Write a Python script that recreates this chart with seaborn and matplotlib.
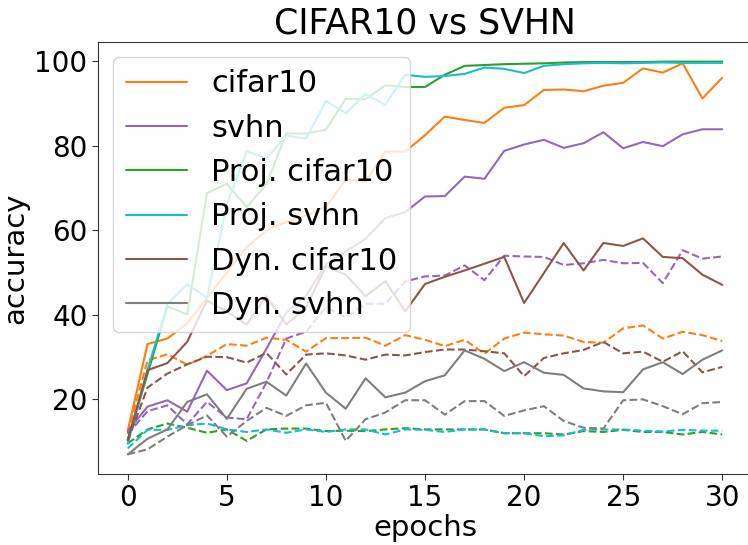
import matplotlib
matplotlib.use("Agg")
import matplotlib.pyplot as plt
import seaborn as sns
import numpy as np

epochs = list(range(31))

# train (solid) accuracies
cifar10 = [12.6, 33.1, 34.4, 38.0, 44.0, 50.0, 56.0, 60.0, 62.0, 63.5, 65.5, 72.0, 71.5, 78.6, 78.6,
           82.5, 86.9, 86.1, 85.4, 89.0, 89.6, 93.2, 93.3, 92.9, 94.2, 94.9, 98.3, 97.3, 99.5, 91.2, 96.1]
svhn = [12.5, 18.3, 19.8, 17.1, 26.8, 22.2, 23.8, 32.0, 40.5, 44.5, 52.0, 55.0, 58.0, 62.9, 64.3,
        68.0, 68.1, 72.7, 72.2, 78.8, 80.3, 81.4, 79.5, 80.6, 83.2, 79.4, 80.9, 79.9, 82.7, 83.9, 83.9]
proj_cifar10 = [10.4, 26.0, 42.0, 40.1, 68.8, 71.0, 65.5, 70.9, 82.9, 82.9, 83.8, 91.1, 91.0, 94.3, 93.9,
                93.9, 96.8, 98.9, 99.1, 99.3, 99.4, 99.5, 99.7, 99.8, 99.8, 99.8, 99.8, 99.9, 99.9, 99.9, 99.9]
proj_svhn = [9.5, 27.0, 42.5, 47.3, 44.0, 66.0, 78.7, 77.0, 82.4, 81.7, 90.6, 87.7, 92.2, 89.7, 96.8,
             96.3, 96.5, 97.0, 98.5, 98.2, 97.2, 98.9, 99.3, 99.5, 99.6, 99.5, 99.6, 99.7, 99.6, 99.6, 99.6]
dyn_cifar10 = [10.4, 26.9, 28.6, 33.6, 43.4, 40.8, 37.7, 44.4, 37.7, 41.8, 51.5, 49.5, 44.4, 48.0, 40.8,
               47.3, 49.0, 50.5, 52.1, 53.7, 42.8, 49.9, 57.0, 50.5, 57.0, 56.3, 58.1, 53.7, 53.4, 49.5, 47.1]
dyn_svhn = [7.0, 10.7, 12.9, 19.4, 21.2, 15.4, 22.5, 24.2, 20.9, 28.5, 21.6, 17.8, 25.0, 20.5, 21.6,
            24.3, 25.7, 31.6, 29.6, 26.7, 28.8, 26.3, 25.8, 22.6, 21.9, 21.7, 27.1, 28.8, 26.0, 29.4, 31.6]

# test (dashed) accuracies
cifar10_test = [12.0, 29.2, 30.7, 28.2, 30.3, 33.1, 32.7, 34.6, 34.1, 31.3, 34.5, 34.5, 34.6, 32.7, 35.2,
                34.1, 32.6, 34.1, 30.8, 34.4, 35.8, 35.4, 35.1, 33.6, 33.4, 36.8, 37.5, 34.4, 36.0, 35.2, 33.8]
svhn_test = [11.8, 17.2, 18.6, 14.1, 19.4, 15.7, 15.3, 24.0, 34.4, 36.0, 41.8, 39.4, 42.6, 42.6, 47.9,
             49.1, 49.3, 51.7, 48.2, 54.0, 53.8, 53.7, 51.8, 52.2, 53.0, 52.2, 52.3, 47.5, 55.3, 53.3, 53.8]
proj_cifar10_test = [9.6, 12.9, 14.3, 13.3, 12.1, 12.9, 10.2, 12.9, 13.1, 13.1, 12.5, 12.6, 12.5, 12.9, 13.2,
                     12.9, 12.9, 12.9, 12.9, 12.0, 12.0, 12.0, 11.7, 12.5, 12.3, 12.8, 12.3, 12.3, 11.7, 12.3, 11.7]
proj_svhn_test = [8.4, 12.8, 12.8, 13.9, 14.3, 12.9, 12.3, 12.9, 12.1, 12.9, 12.3, 12.9, 12.9, 11.7, 12.9,
                  12.8, 12.3, 12.9, 12.9, 12.0, 12.0, 11.3, 11.5, 12.8, 12.9, 12.9, 12.6, 12.4, 12.8, 12.6, 12.6]
dyn_cifar10_test = [10.2, 22.8, 26.1, 28.3, 30.1, 30.0, 28.7, 31.0, 25.9, 30.6, 30.9, 30.4, 29.4, 30.6, 30.4,
                    31.2, 31.8, 31.8, 31.4, 30.9, 25.5, 29.8, 30.9, 31.7, 33.6, 30.9, 31.3, 28.9, 31.4, 26.4, 27.7]
dyn_svhn_test = [7.0, 8.2, 11.2, 13.9, 16.2, 11.2, 14.9, 18.0, 16.1, 18.6, 19.2, 10.2, 15.3, 16.9, 19.8,
                 19.8, 16.4, 19.6, 19.6, 16.1, 17.4, 18.4, 14.9, 13.3, 13.1, 19.8, 20.0, 18.4, 16.5, 19.1, 19.4]

labels = ["cifar10", "svhn", "Proj. cifar10", "Proj. svhn", "Dyn. cifar10", "Dyn. svhn"]
train_series = [cifar10, svhn, proj_cifar10, proj_svhn, dyn_cifar10, dyn_svhn]
test_series = [cifar10_test, svhn_test, proj_cifar10_test, proj_svhn_test, dyn_cifar10_test, dyn_svhn_test]
colors = ["#ff7f0e", "#9467bd", "#2ca02c", "#17becf", "#8c564b", "#7f7f7f"]

sns.set_style("ticks")
plt.rcParams["font.family"] = ["DejaVu Sans"]
plt.rcParams["text.color"] = "black"
plt.rcParams["axes.labelcolor"] = "black"
plt.rcParams["xtick.color"] = "black"
plt.rcParams["ytick.color"] = "black"

fig = plt.figure(figsize=(7.48, 5.45), dpi=100)
ax = fig.add_axes([98 / 748, 1 - 474 / 545, (752 - 98) / 748, (474 - 42) / 545])

for lab, tr, te, c in zip(labels, train_series, test_series, colors):
    sns.lineplot(x=epochs, y=tr, color=c, linestyle="-", linewidth=1.5, ax=ax, label=lab)
    sns.lineplot(x=epochs, y=te, color=c, linestyle="--", linewidth=1.5, ax=ax)

h, l = ax.get_legend_handles_labels()
ax.legend(h, l, loc="upper left", fontsize=22, framealpha=0.8)

for sp in ax.spines.values():
    sp.set_visible(True)
    sp.set_color("#333333")

ax.set_xticks([0, 5, 10, 15, 20, 25, 30])
ax.set_yticks([20, 40, 60, 80, 100])
ax.tick_params(labelsize=20, length=4, color="#333333", labelcolor="black")
ax.set_xlabel("epochs", fontsize=21, labelpad=1, color="black")
ax.set_ylabel("accuracy", fontsize=21, color="black")
ax.set_title("CIFAR10 vs SVHN", fontsize=25, color="black")

fig.savefig("out.png", dpi=100)
